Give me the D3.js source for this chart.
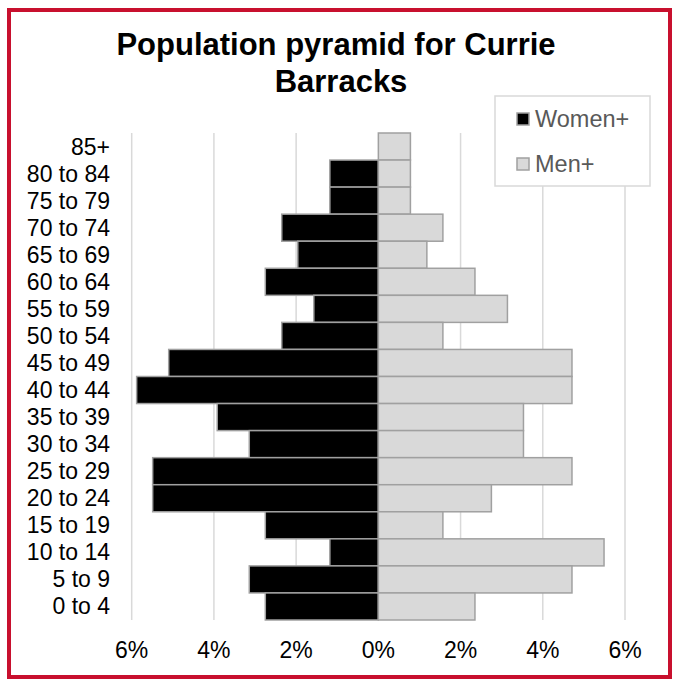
<!DOCTYPE html>
<html>
<head>
<meta charset="utf-8">
<script src="https://cdn.jsdelivr.net/npm/d3@7"></script>
<style>
  body { margin: 0; background: #fff; }
  text { font-family: "Liberation Sans", Arial, sans-serif; }
</style>
</head>
<body>
<div id="chart"></div>
<script>
// age groups, top row first
const ageGroups = ["85+", "80 to 84", "75 to 79", "70 to 74", "65 to 69", "60 to 64", "55 to 59",
  "50 to 54", "45 to 49", "40 to 44", "35 to 39", "30 to 34", "25 to 29", "20 to 24",
  "15 to 19", "10 to 14", "5 to 9", "0 to 4"];
// percent of population
const women = [0, 1.18, 1.18, 2.35, 1.96, 2.75, 1.57, 2.35, 5.1, 5.88, 3.92, 3.14, 5.49, 5.49, 2.75, 1.18, 3.14, 2.75];
const men = [0.78, 0.78, 0.78, 1.57, 1.18, 2.35, 3.14, 1.57, 4.71, 4.71, 3.53, 3.53, 4.71, 2.75, 1.57, 5.49, 4.71, 2.35];
const tickValues = [-6, -4, -2, 0, 2, 4, 6];
const seriesNames = ["Women+", "Men+"];
const seriesColors = ["#000000", "#d9d9d9"];

const width = 673, height = 679;
const svg = d3.select("#chart").append("svg")
  .attr("width", width).attr("height", height);

// red frame
svg.append("rect")
  .attr("x", 9).attr("y", 10).attr("width", 661).attr("height", 667)
  .attr("fill", "none").attr("stroke", "#c8102e").attr("stroke-width", 4);

// title
const title = svg.append("text").attr("text-anchor", "middle")
  .attr("font-size", 31).attr("font-weight", "bold").attr("fill", "#000");
title.append("tspan").attr("x", 336).attr("y", 55).text("Population pyramid for Currie");
title.append("tspan").attr("x", 341).attr("y", 92).text("Barracks");

const x = d3.scaleLinear().domain([-6, 6]).range([131.7, 625]);
const y = d3.scaleBand().domain(ageGroups).range([133, 620]).padding(0);

// gridlines
svg.append("g").selectAll("line").data(tickValues.filter(d => d !== 0)).join("line")
  .attr("x1", d => x(d)).attr("x2", d => x(d))
  .attr("y1", 133).attr("y2", 620)
  .attr("stroke", "#d9d9d9").attr("stroke-width", 1.5);

// women bars (left)
svg.append("g").selectAll("rect").data(ageGroups).join("rect")
  .filter((d, i) => women[i] > 0)
  .attr("x", (d) => x(-women[ageGroups.indexOf(d)]))
  .attr("width", (d) => x(0) - x(-women[ageGroups.indexOf(d)]))
  .attr("y", d => y(d)).attr("height", y.bandwidth())
  .attr("fill", seriesColors[0]).attr("stroke", "#a0a0a0").attr("stroke-width", 1.5);

// men bars (right)
svg.append("g").selectAll("rect").data(ageGroups).join("rect")
  .attr("x", x(0))
  .attr("width", (d, i) => x(men[i]) - x(0))
  .attr("y", d => y(d)).attr("height", y.bandwidth())
  .attr("fill", seriesColors[1]).attr("stroke", "#a0a0a0").attr("stroke-width", 1.5);

// category labels
svg.append("g").selectAll("text").data(ageGroups).join("text")
  .attr("x", 110).attr("y", d => y(d) + y.bandwidth() / 2 + 8)
  .attr("text-anchor", "end").attr("font-size", 23).attr("fill", "#000")
  .text(d => d);

// x tick labels
svg.append("g").selectAll("text").data(tickValues).join("text")
  .attr("x", d => x(d)).attr("y", 658)
  .attr("text-anchor", "middle").attr("font-size", 23).attr("fill", "#000")
  .text(d => Math.abs(d) + "%");

// legend
const legend = svg.append("g");
legend.append("rect").attr("x", 495).attr("y", 96).attr("width", 155).attr("height", 90)
  .attr("fill", "#fff").attr("stroke", "#d9d9d9").attr("stroke-width", 1.5);
const items = legend.selectAll("g").data(seriesNames).join("g")
  .attr("transform", (d, i) => `translate(517, ${113 + i * 45})`);
items.append("rect").attr("width", 12).attr("height", 12)
  .attr("fill", (d, i) => seriesColors[i]).attr("stroke", "#a0a0a0").attr("stroke-width", 1.5);
items.append("text").attr("x", 18).attr("y", 14)
  .attr("font-size", 23.5).attr("fill", "#595959").text(d => d);
</script>
</body>
</html>
